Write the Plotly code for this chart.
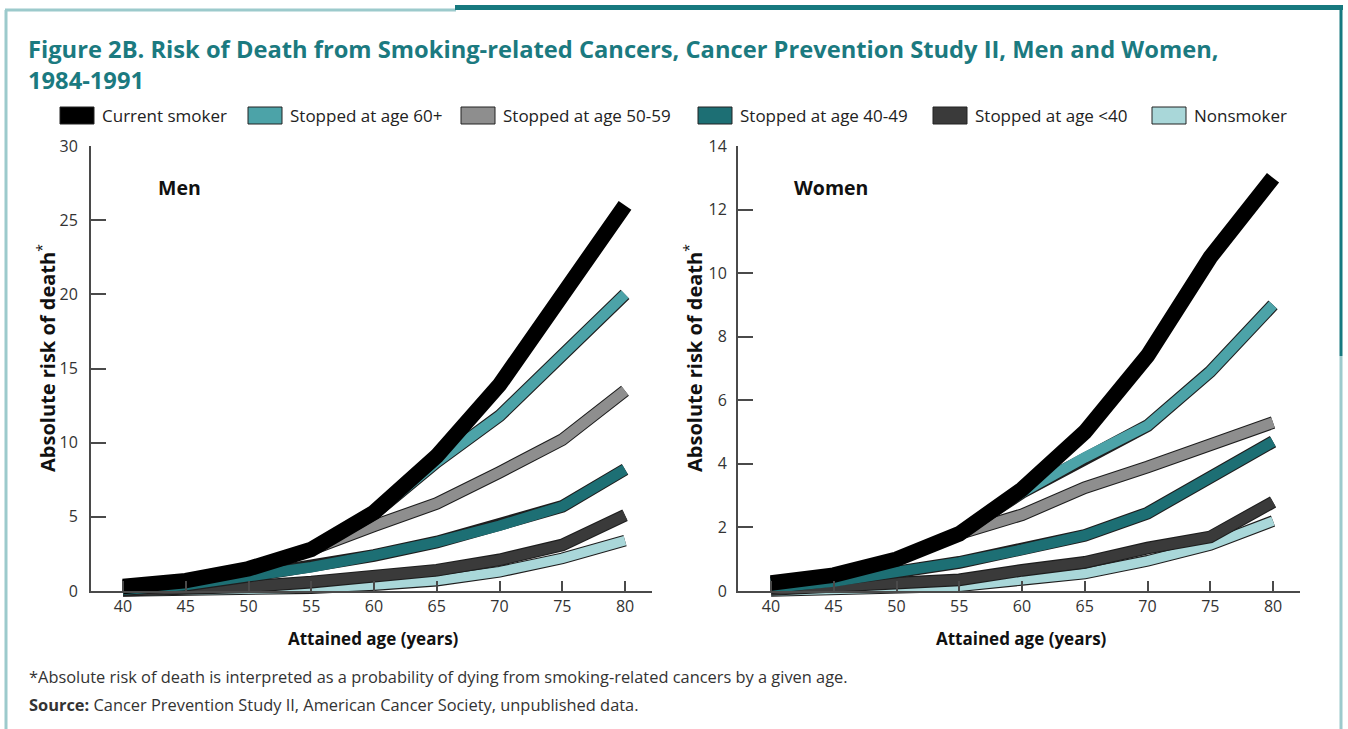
import plotly.graph_objects as go

# ---- data -----------------------------------------------------------------
ages = [40, 45, 50, 55, 60, 65, 70, 75, 80]

series_names = [
    "Current smoker",
    "Stopped at age 60+",
    "Stopped at age 50-59",
    "Stopped at age 40-49",
    "Stopped at age <40",
    "Nonsmoker",
]

men_current = [0.3, 0.7, 1.5, 2.8, 5.3, 9.1, 13.9, 19.8, 26.0]
men_stop60 = [0.3, 0.7, 1.5, 2.8, 5.2, 8.7, 11.8, 15.8, 20.0]
men_stop50 = [0.3, 0.7, 1.5, 2.8, 4.4, 5.9, 8.0, 10.2, 13.5]
men_stop40 = [0.1, 0.4, 1.0, 1.6, 2.4, 3.3, 4.4, 5.7, 8.2]
men_stopU40 = [0.05, 0.15, 0.3, 0.6, 0.95, 1.4, 2.1, 3.1, 5.1]
men_never = [0.0, 0.05, 0.1, 0.2, 0.4, 0.7, 1.3, 2.2, 3.4]

women_current = [0.25, 0.5, 1.0, 1.8, 3.2, 5.0, 7.4, 10.5, 13.0]
women_stop60 = [0.25, 0.5, 1.0, 1.8, 3.1, 4.2, 5.2, 6.9, 9.0]
women_stop50 = [0.25, 0.5, 1.0, 1.8, 2.4, 3.25, 3.9, 4.6, 5.3]
women_stop40 = [0.1, 0.3, 0.6, 0.9, 1.3, 1.75, 2.45, 3.55, 4.7]
women_stopU40 = [0.05, 0.15, 0.25, 0.35, 0.65, 0.9, 1.35, 1.7, 2.8]
women_never = [0.0, 0.05, 0.08, 0.15, 0.35, 0.55, 0.95, 1.45, 2.2]

men_ticks = [0, 5, 10, 15, 20, 25, 30]
women_ticks = [0, 2, 4, 6, 8, 10, 12, 14]
age_ticks = [40, 45, 50, 55, 60, 65, 70, 75, 80]

# ---- styling ----------------------------------------------------------------
W, H = 1348, 729
TEAL_TXT = "#1b7a80"
FONT = "Open Sans"

fills = ["#000000", "#4ca3a8", "#8e8e8e", "#1d6f74", "#3a3a3a", "#a9d7d9"]
widths = [15.5, 10.5, 10.5, 10.5, 10.5, 9.5]
OUTLINE = "#1e1e1e"


def px(x):
    return x / W


def py(y):
    return 1 - y / H


fig = go.Figure()

# panel geometry in pixels: (left, right, top, bottom, x-range, y-max)
panels = {
    "men": dict(l=91, r=652, t=146, b=591, x0=37.45, x1=82.15, ymax=30,
                ticks=men_ticks, label="Men", label_x=156, standoff=8,
                data=[men_current, men_stop60, men_stop50, men_stop40,
                      men_stopU40, men_never]),
    "women": dict(l=738, r=1300, t=146, b=591, x0=37.37, x1=82.15, ymax=14,
                  ticks=women_ticks, label="Women", label_x=792, standoff=6,
                  data=[women_current, women_stop60, women_stop50, women_stop40,
                        women_stopU40, women_never]),
}

EXTRA = 16  # pixels below zero reserved so thick lines are not clipped

layout_axes = {}
idx = 1
for key, p in panels.items():
    unit = (p["b"] - p["t"]) / p["ymax"]
    # data axes (invisible, extended below zero)
    xa, ya = f"x{idx}", f"y{idx}"
    xf, yf = f"xaxis{idx}", f"yaxis{idx}"
    layout_axes[xf] = dict(domain=[px(p["l"]), px(p["r"])], range=[p["x0"], p["x1"]],
                           visible=False, anchor=ya, fixedrange=True)
    layout_axes[yf] = dict(domain=[py(p["b"] + EXTRA), py(p["t"])],
                           range=[-EXTRA / unit, p["ymax"]],
                           visible=False, anchor=xa, fixedrange=True)
    # draw from bottom of the stack to the top: nonsmoker first, current smoker last
    for k in reversed(range(len(series_names))):
        vals = p["data"][k]
        if k != 0:
            fig.add_trace(go.Scatter(x=ages, y=vals, mode="lines", xaxis=xa, yaxis=ya,
                                     line=dict(color=OUTLINE, width=widths[k] + 2.2),
                                     showlegend=False, hoverinfo="skip"))
        fig.add_trace(go.Scatter(x=ages, y=vals, mode="lines", xaxis=xa, yaxis=ya,
                                 name=series_names[k],
                                 line=dict(color=fills[k], width=widths[k]),
                                 showlegend=False))
    idx += 1

    # frame axes with lines, ticks and labels
    xa, ya = f"x{idx}", f"y{idx}"
    xf, yf = f"xaxis{idx}", f"yaxis{idx}"
    layout_axes[xf] = dict(domain=[px(p["l"]), px(p["r"])], range=[p["x0"], p["x1"]],
                           anchor=ya, showline=True, linecolor="#4a4a4a", linewidth=2,
                           ticks="inside", ticklen=10, tickwidth=1.5, tickcolor="#4a4a4a",
                           tickvals=age_ticks, showgrid=False, zeroline=False,
                           tickfont=dict(family=FONT, size=16, color="#333333"),
                           fixedrange=True)
    layout_axes[yf] = dict(domain=[py(p["b"]), py(p["t"])], range=[0, p["ymax"]],
                           anchor=xa, showline=True, linecolor="#4a4a4a", linewidth=2,
                           ticks="inside", ticklen=15, tickwidth=1.5, tickcolor="#4a4a4a",
                           tickvals=p["ticks"], showgrid=False, zeroline=False,
                           ticklabelstandoff=p["standoff"],
                           tickfont=dict(family=FONT, size=16, color="#333333"),
                           fixedrange=True)
    fig.add_trace(go.Scatter(x=[None], y=[None], xaxis=xa, yaxis=ya,
                             showlegend=False, hoverinfo="skip"))
    idx += 1

annotations = []
shapes = []

# title
annotations.append(dict(
    text="<b>Figure 2B. Risk of Death from Smoking-related Cancers, Cancer Prevention Study II, Men and Women,<br>1984-1991</b>",
    x=px(26), y=py(31), xref="paper", yref="paper", xanchor="left", yanchor="top",
    align="left", showarrow=False,
    font=dict(family=FONT, size=23.7, color=TEAL_TXT)))

# legend
legend_boxes = [60, 248, 461, 698, 933, 1152]
for k, name in enumerate(series_names):
    x0 = legend_boxes[k]
    shapes.append(dict(type="rect", xref="paper", yref="paper",
                       x0=px(x0), x1=px(x0 + 34), y0=py(124), y1=py(107),
                       fillcolor=fills[k], line=dict(color="#222222", width=1)))
    annotations.append(dict(text=name, x=px(x0 + 40), y=py(115.5), xref="paper",
                            yref="paper", xanchor="left", yanchor="middle",
                            showarrow=False,
                            font=dict(family=FONT, size=17, color="#222222")))

# panel labels, axis titles
for key, p in panels.items():
    annotations.append(dict(text=f"<b>{p['label']}</b>", x=px(p["label_x"]), y=py(187),
                            xref="paper", yref="paper", xanchor="left", yanchor="middle",
                            showarrow=False,
                            font=dict(family=FONT, size=19.5, color="#111111")))
    annotations.append(dict(text="<b>Attained age (years)</b>",
                            x=px((p["l"] + p["r"]) / 2 + 2), y=py(638),
                            xref="paper", yref="paper", xanchor="center", yanchor="middle",
                            showarrow=False,
                            font=dict(family=FONT, size=17, color="#111111")))
    annotations.append(dict(text="<b>Absolute risk of death</b><sup>*</sup>",
                            x=px(p["l"] - 45), y=py(358), textangle=-90,
                            xref="paper", yref="paper", xanchor="center", yanchor="middle",
                            showarrow=False,
                            font=dict(family=FONT, size=20, color="#111111")))

# footnotes
annotations.append(dict(
    text="*Absolute risk of death is interpreted as a probability of dying from smoking-related cancers by a given age.",
    x=px(27), y=py(676), xref="paper", yref="paper", xanchor="left", yanchor="middle",
    showarrow=False, font=dict(family=FONT, size=16.4, color="#333333")))
annotations.append(dict(
    text="<b>Source:</b> Cancer Prevention Study II, American Cancer Society, unpublished data.",
    x=px(27), y=py(704), xref="paper", yref="paper", xanchor="left", yanchor="middle",
    showarrow=False, font=dict(family=FONT, size=16.4, color="#333333")))

# page frame
LIGHT = "#9ccacc"
DARK = "#17797f"
shapes += [
    dict(type="line", xref="paper", yref="paper", x0=px(6), x1=px(6), y0=py(10), y1=py(729),
         line=dict(color=LIGHT, width=3)),
    dict(type="line", xref="paper", yref="paper", x0=px(5), x1=px(456), y0=py(10), y1=py(10),
         line=dict(color=LIGHT, width=3)),
    dict(type="line", xref="paper", yref="paper", x0=px(455), x1=px(1343), y0=py(7.5), y1=py(7.5),
         line=dict(color=DARK, width=5)),
    dict(type="line", xref="paper", yref="paper", x0=px(1341), x1=px(1341), y0=py(5), y1=py(356),
         line=dict(color=DARK, width=3)),
    dict(type="line", xref="paper", yref="paper", x0=px(1341), x1=px(1341), y0=py(356), y1=py(729),
         line=dict(color=LIGHT, width=3)),
]

fig.update_layout(
    width=W, height=H,
    margin=dict(l=0, r=0, t=0, b=0, pad=0, autoexpand=False),
    paper_bgcolor="white", plot_bgcolor="rgba(0,0,0,0)",
    showlegend=False,
    annotations=annotations,
    shapes=shapes,
    **layout_axes,
)

fig.write_html("out.html", config={"displayModeBar": False})
